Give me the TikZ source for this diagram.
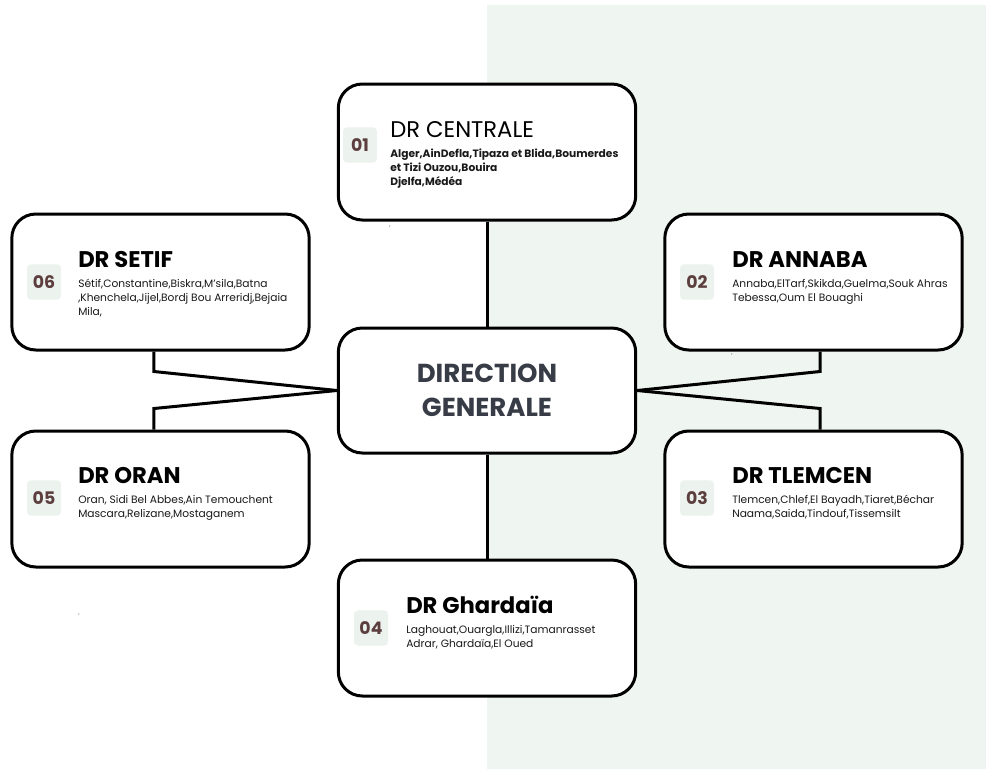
\documentclass[tikz,border=0pt]{standalone}
\usepackage{fontspec}
\setmainfont{Poppins}
\usetikzlibrary{positioning}
\definecolor{dzPanel}{RGB}{239,245,241}
\definecolor{dzBadge}{RGB}{236,242,238}
\definecolor{dzNum}{RGB}{92,62,62}
\definecolor{dzInk}{RGB}{25,25,25}
\definecolor{dzHead}{RGB}{56,60,70}
\definecolor{dzTick}{RGB}{120,120,120}

\begin{document}
\begin{tikzpicture}[
	x=0.75pt,y=-0.75pt,
	box/.style={
		draw=black,line width=2.25pt,rounded corners=18pt,fill=white,
		minimum width=223pt,minimum height=102pt,inner sep=0pt
	},
	link/.style={line width=2.25pt,draw=black},
	badge/.style={
		fill=dzBadge,rounded corners=3pt,text=dzNum,inner sep=0pt,
		minimum width=25.5pt,minimum height=26.5pt,
		font=\fontsize{13}{14}\selectfont\bfseries
	},
	head/.style={anchor=base west,inner sep=0pt,text=black,
		font=\fontsize{17}{20}\selectfont\bfseries},
	towns/.style={anchor=base west,align=left,inner sep=0pt,text=dzInk,
		font=\fontsize{8}{10.5}\selectfont},
	tick/.style={font=\fontsize{5}{5}\selectfont,text=dzTick,inner sep=0pt}
	]
	\useasboundingbox (0,0) rectangle (986,769);
	\fill[dzPanel] (487,5) rectangle (986,769);

	% boxes
	\node[box] (cen)     at (487,152)   {};
	\node[box] (setif)   at (160.5,282) {};
	\node[box] (annaba)  at (813.5,282) {};
	\node[box,minimum height=93.75pt] (dg) at (487,390.5) {};
	\node[box] (oran)    at (160.5,499) {};
	\node[box] (tlemcen) at (813.5,499) {};
	\node[box] (ghar)    at (487,628)   {};

	% links to the head office
	\draw[link] (cen.south) -- (dg.north);
	\draw[link] (dg.south) -- (ghar.north);
	\draw[link] ([xshift=-4.9pt]setif.south) -- ++(0,20) -- (dg.west);
	\draw[link] ([xshift=-4.9pt]oran.north) -- ++(0,-21) -- (dg.west);
	\draw[link] ([xshift=4.9pt]annaba.south) -- ++(0,20) -- (dg.east);
	\draw[link] ([xshift=4.9pt]tlemcen.north) -- ++(0,-21) -- (dg.east);

	\node[align=center,text=dzHead,font=\fontsize{19.5}{25.5}\selectfont\bfseries]
		(dg-t) at (dg) {DIRECTION\\GENERALE};

	% numbers
	\node[badge] (cen-n)     at (360,145) {01};
	\node[badge] (annaba-n)  at (697,282) {02};
	\node[badge] (tlemcen-n) at (697,498) {03};
	\node[badge] (ghar-n)    at (371,628) {04};
	\node[badge] (oran-n)    at (44,498)  {05};
	\node[badge] (setif-n)   at (44,282)  {06};

	% titles
	\node[head,font=\fontsize{17}{20}\selectfont] (cen-t) at (390,137) {DR CENTRALE};
	\node[head] (setif-t)   at (78,267)  {DR SETIF};
	\node[head] (annaba-t)  at (732,267) {DR ANNABA};
	\node[head] (oran-t)    at (78,483)  {DR ORAN};
	\node[head] (tlemcen-t) at (732,483) {DR TLEMCEN};
	\node[head] (ghar-t)    at (406,613) {DR Ghardaïa};

	% wilayas (base = last line)
	\node[towns,font=\fontsize{8}{10.5}\selectfont\bfseries] (cen-b) at (390,185)
		{Alger,AinDefla,Tipaza et Blida,Boumerdes\\et Tizi Ouzou,Bouira\\Djelfa,Médéa};
	\node[towns] (setif-b) at (78,315)
		{Sétif,Constantine,Biskra,M'sila,Batna\\,Khenchela,Jijel,Bordj Bou Arreridj,Bejaia\\Mila,};
	\node[towns] (annaba-b) at (732,301)
		{Annaba,ElTarf,Skikda,Guelma,Souk Ahras\\Tebessa,Oum El Bouaghi};
	\node[towns] (oran-b) at (78,517)
		{Oran, Sidi Bel Abbes,Ain Temouchent\\Mascara,Relizane,Mostaganem};
	\node[towns] (tlemcen-b) at (732,517)
		{Tlemcen,Chlef,El Bayadh,Tiaret,Béchar\\Naama,Saida,Tindouf,Tissemsilt};
	\node[towns] (ghar-b) at (406,647)
		{Laghouat,Ouargla,Illizi,Tamanrasset\\Adrar, Ghardaïa,El Oued};

	% stray marks
	\node[tick] (tick1) at (390,227) {,};
	\node[tick] (tick2) at (732,355) {,};
	\node[tick] (tick3) at (79,615)  {,};
\end{tikzpicture}
\end{document}
